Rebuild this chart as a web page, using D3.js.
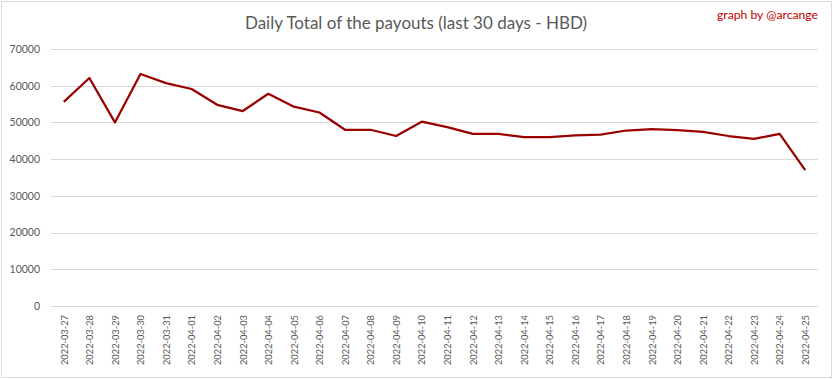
<!DOCTYPE html>
<html><head><meta charset="utf-8">
<script src="https://cdn.jsdelivr.net/npm/d3@7/dist/d3.min.js"></script>
<style>body{margin:0;background:#fff}svg{display:block}</style>
</head><body>
<script>
const dates = ["2022-03-27","2022-03-28","2022-03-29","2022-03-30","2022-03-31","2022-04-01","2022-04-02","2022-04-03","2022-04-04","2022-04-05","2022-04-06","2022-04-07","2022-04-08","2022-04-09","2022-04-10","2022-04-11","2022-04-12","2022-04-13","2022-04-14","2022-04-15","2022-04-16","2022-04-17","2022-04-18","2022-04-19","2022-04-20","2022-04-21","2022-04-22","2022-04-23","2022-04-24","2022-04-25"];
const payouts = [55600,62100,50000,63200,60700,59100,54800,53100,57800,54300,52700,48000,48000,46300,50200,48700,46900,46900,46000,46000,46500,46700,47800,48200,47900,47400,46300,45500,46900,37000];
const yTicks = [0,10000,20000,30000,40000,50000,60000,70000];
const titleText = "Daily Total of the payouts (last 30 days - HBD)";
const creditText = "graph by @arcange";

const W = 833, H = 379;
const m = {left: 51, right: 15, top: 49, bottom: 73};
const svg = d3.select("body").append("svg").attr("width", W).attr("height", H);
const font = "Lato, 'Open Sans', sans-serif";

svg.append("rect").attr("x",1.5).attr("y",1.5).attr("width",W-3).attr("height",H-3)
  .attr("fill","#fff").attr("stroke","#d9d9d9").attr("stroke-width",1);

const x = d3.scalePoint().domain(dates).range([m.left, W - m.right]).padding(0.5);
const y = d3.scaleLinear().domain([0,70000]).range([H - m.bottom, m.top]);

// gridlines
svg.append("g").selectAll("line").data(yTicks).join("line")
  .attr("x1", m.left).attr("x2", W - m.right)
  .attr("y1", d => Math.round(y(d)) + 0.5).attr("y2", d => Math.round(y(d)) + 0.5)
  .attr("stroke","#d9d9d9").attr("stroke-width",1);

// y axis labels
const yAxis = d3.axisLeft(y).tickValues(yTicks).tickSize(0).tickPadding(0).tickFormat(d3.format("d"));
const gy = svg.append("g").attr("transform", `translate(40,0)`).call(yAxis);
gy.select(".domain").remove();
gy.selectAll("text").attr("fill","#595959").style("font-family",font).style("font-size","10.5px");

// x axis labels
const xAxis = d3.axisBottom(x).tickSize(0).tickPadding(0);
const gx = svg.append("g").attr("transform", `translate(0,${H - m.bottom})`).call(xAxis);
gx.select(".domain").remove();
gx.selectAll("text")
  .attr("fill","#595959").style("font-family",font).style("font-size","9.3px")
  .attr("transform","rotate(-90)").attr("text-anchor","end")
  .attr("x",-9).attr("y",0).attr("dy","0.35em");

// line
svg.append("path").datum(payouts)
  .attr("fill","none").attr("stroke","#990000").attr("stroke-width",2.25)
  .attr("stroke-linejoin","round")
  .attr("d", d3.line().x((d,i) => x(dates[i])).y(d => y(d)));

// title
svg.append("text").attr("x", 416).attr("y", 29).attr("text-anchor","middle")
  .attr("fill","#595959").style("font-family",font).style("font-size","17px")
  .text(titleText);

svg.append("text").attr("x", 818).attr("y", 19).attr("text-anchor","end")
  .attr("fill","#c00000").style("font-family",font).style("font-size","12.2px")
  .text(creditText);
</script>
</body></html>
